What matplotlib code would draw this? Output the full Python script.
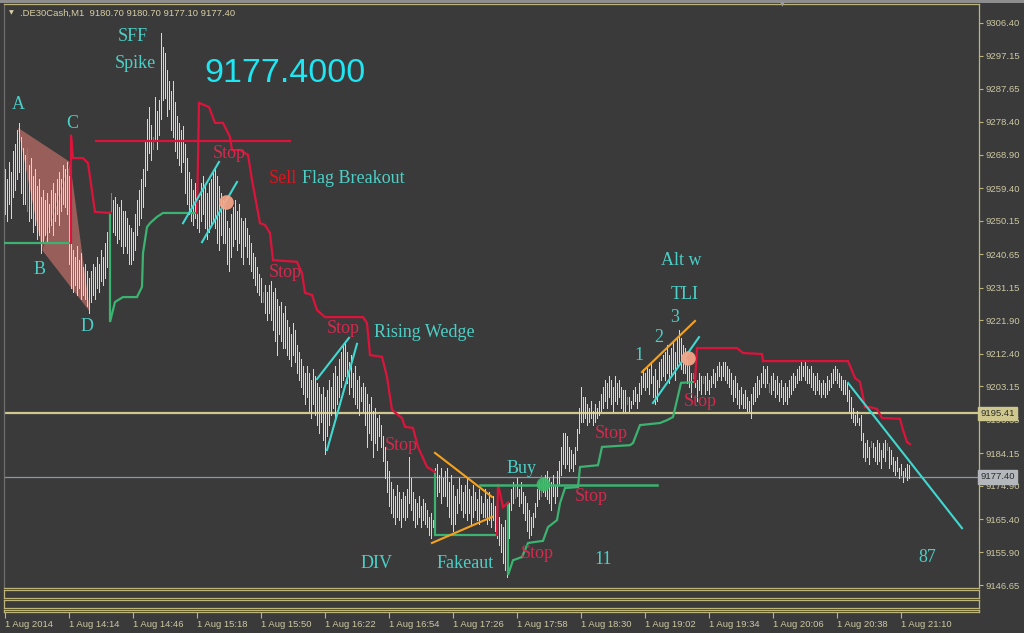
import matplotlib
matplotlib.use("Agg")
import matplotlib.pyplot as plt
import matplotlib.transforms as mtransforms
from matplotlib.patches import Polygon, Rectangle
import numpy as np

W, H = 1024, 633

BG = "#3a3a3a"
FRAME = "#bdb57a"
AXIS_TEXT = "#cdc8a2"
BAR = "#f1d2aa"
BAR_HI = "#22c022"
STOP_RED = "#dc143c"
STOP_GREEN = "#3cb371"
TEAL = "#4ccfc6"
CYAN = "#40d8d0"
ORANGE = "#f5a21e"
LEVEL_KHAKI = "#cfc88e"
LEVEL_GREY = "#8a98a8"

# --- price bars (1 minute, DE30) ---
highs = [
    9265, 9262, 9267, 9264, 9270, 9272, 9276, 9278, 9274, 9271,
    9269, 9271, 9266, 9268, 9263, 9265, 9260, 9262, 9257, 9259,
    9256, 9258, 9255, 9259, 9261, 9258, 9262, 9264, 9262, 9266,
    9265, 9267, 9263, 9244, 9242, 9240, 9243, 9239, 9241, 9237,
    9238, 9236, 9234, 9236, 9238, 9237, 9240, 9238, 9242, 9240,
    9244, 9247, 9252, 9258, 9256, 9257, 9255, 9254, 9256, 9253,
    9253, 9251, 9249, 9248, 9247, 9252, 9256, 9259, 9262, 9265,
    9273, 9279, 9282.5, 9277.5, 9274, 9285.5, 9281.5, 9284.5, 9303.5, 9299.5,
    9298, 9293, 9290, 9287, 9290, 9284, 9280, 9278, 9276, 9277,
    9272, 9268, 9264, 9262, 9259, 9261, 9258, 9256, 9261, 9263,
    9260, 9258, 9261, 9262, 9264, 9265, 9263, 9260, 9258, 9256,
    9254, 9250, 9248, 9252, 9254, 9256, 9253, 9255, 9251, 9250,
    9251, 9248, 9246, 9244, 9241, 9240, 9237, 9235, 9234, 9230,
    9232, 9230, 9232, 9233, 9230, 9231, 9228, 9226, 9227, 9224,
    9226, 9222, 9220, 9218, 9221, 9219, 9215, 9213, 9211, 9209,
    9207, 9209, 9207, 9205, 9208, 9206, 9204, 9203, 9201, 9203,
    9200, 9202, 9205, 9203, 9207, 9209, 9206, 9211, 9213, 9215,
    9216, 9213, 9210, 9212, 9207, 9209, 9205, 9206, 9203, 9204,
    9203, 9201, 9198, 9200, 9196, 9197, 9194, 9195, 9192, 9189,
    9186, 9182, 9179, 9176, 9174, 9172, 9175, 9173, 9171, 9173,
    9172, 9174, 9183, 9177, 9173, 9171, 9170, 9172, 9169, 9171,
    9170, 9168, 9166, 9167, 9165, 9180, 9181, 9178, 9180, 9177,
    9179, 9180, 9176, 9178, 9175, 9172, 9174, 9177, 9175, 9173,
    9175, 9177, 9174, 9172, 9175, 9173, 9171, 9174, 9172, 9170,
    9174, 9171, 9173, 9170, 9172, 9169, 9168, 9166, 9164, 9163,
    9165, 9163, 9170, 9174, 9176, 9175, 9177, 9174, 9176, 9173,
    9172, 9170, 9168, 9166, 9167, 9170, 9174, 9176, 9178, 9177,
    9178, 9179, 9177, 9176, 9178, 9175, 9179, 9182, 9186, 9190,
    9190, 9189, 9186, 9185, 9184, 9186, 9191, 9197, 9203, 9200,
    9200, 9198, 9197, 9199, 9196, 9198, 9197, 9199, 9201, 9203,
    9205, 9204, 9206, 9205, 9203, 9206, 9204, 9205, 9203, 9202,
    9202, 9200, 9200, 9199, 9202, 9203, 9201, 9204, 9206, 9208,
    9207, 9209, 9208, 9210, 9206, 9208, 9205, 9210, 9211, 9212,
    9213, 9215, 9212, 9214, 9216, 9213, 9217, 9219, 9217, 9215,
    9214, 9211, 9209, 9207, 9207, 9208, 9205, 9207, 9206, 9206,
    9206, 9207, 9205, 9206, 9208, 9207, 9209, 9210, 9209, 9210,
    9210, 9209, 9208, 9207, 9205, 9206, 9204, 9202, 9203, 9201,
    9202, 9200, 9199, 9201, 9203, 9204, 9206, 9205, 9207, 9209,
    9208, 9209, 9204, 9206, 9207, 9205, 9206, 9204, 9205, 9203,
    9204, 9203, 9205, 9206, 9207, 9206, 9208, 9209, 9210, 9209,
    9210, 9209, 9208, 9209, 9207, 9206, 9207, 9205, 9204, 9205,
    9204, 9206, 9205, 9207, 9208, 9209, 9208, 9207, 9206, 9205,
    9205, 9204, 9202, 9200, 9197, 9195, 9196, 9194, 9195, 9190,
    9187, 9188, 9186, 9187.5, 9187, 9186, 9188, 9187, 9185, 9187,
    9188, 9187, 9186, 9185, 9183, 9182, 9183, 9180, 9181, 9179,
    9180, 9181, 9180.7,
]
lows = [
    9252, 9250, 9255, 9251, 9257, 9259, 9262, 9264, 9258, 9255,
    9255, 9253, 9250, 9251, 9247, 9249, 9245, 9246, 9241, 9244,
    9246, 9244, 9247, 9249, 9246, 9250, 9252, 9249, 9253, 9255,
    9254, 9252, 9238, 9231, 9230, 9232, 9229, 9231, 9228, 9229,
    9228, 9226, 9224, 9227, 9229, 9228, 9231, 9230, 9233, 9232,
    9234, 9237, 9242, 9253, 9247, 9246, 9244, 9245, 9243, 9241,
    9243, 9241, 9238, 9238, 9239, 9242, 9246, 9249, 9251, 9254,
    9260, 9264.5, 9269.5, 9267.5, 9270.5, 9273, 9270.5, 9274.5, 9279, 9284.5,
    9285, 9280, 9282, 9276, 9274, 9270, 9268, 9266, 9264, 9267,
    9258, 9255, 9252, 9250, 9249, 9251, 9248, 9247, 9250, 9252,
    9248, 9245, 9247, 9249, 9250, 9248, 9244, 9242, 9246, 9244,
    9244, 9238, 9236, 9240, 9243, 9245, 9242, 9244, 9240, 9238,
    9243, 9240, 9238, 9236, 9234, 9232, 9230, 9229, 9227, 9227,
    9224, 9222, 9224, 9222, 9219, 9216, 9212, 9218, 9216, 9214,
    9214, 9212, 9211, 9209, 9212, 9210, 9207, 9205, 9203, 9201,
    9198, 9200, 9196, 9194, 9198, 9195, 9192, 9190, 9193, 9188,
    9184, 9189, 9192, 9195, 9197, 9194, 9198, 9200, 9203, 9205,
    9206, 9204, 9201, 9203, 9200, 9198, 9197, 9195, 9199, 9196,
    9192, 9186, 9190, 9188, 9183, 9187, 9185, 9189, 9186, 9182,
    9177, 9173, 9169, 9167, 9166, 9164, 9166, 9165, 9163, 9166,
    9165, 9166, 9170, 9168, 9165, 9163, 9164, 9166, 9163, 9165,
    9164, 9163, 9161, 9160, 9163, 9166, 9172, 9173, 9170, 9172,
    9172, 9169, 9166, 9164, 9162, 9164, 9167, 9170, 9168, 9166,
    9167, 9165, 9167, 9164, 9166, 9168, 9165, 9164, 9167, 9166,
    9166, 9164, 9165, 9163, 9165, 9162, 9160, 9158, 9156, 9153,
    9151, 9149, 9160, 9168, 9170, 9171.5, 9172, 9169, 9170, 9167,
    9165, 9162, 9160, 9161, 9163, 9166, 9169, 9171, 9172, 9173,
    9172, 9171, 9170, 9168, 9172, 9170, 9172, 9175, 9178, 9181,
    9180, 9181, 9179, 9180, 9179, 9181, 9185, 9190, 9193, 9193,
    9194, 9192, 9193, 9194, 9192, 9193, 9194, 9195, 9196, 9197,
    9199, 9197, 9200, 9198, 9196, 9199, 9198, 9200, 9197, 9196,
    9196, 9198, 9196, 9197, 9198, 9199, 9197, 9199, 9201, 9203,
    9202, 9203, 9201, 9204, 9200, 9198, 9199, 9203, 9205, 9206,
    9205, 9207, 9204, 9206, 9208, 9205, 9209, 9210, 9208, 9207,
    9207, 9204, 9203, 9200, 9205.5, 9203, 9199, 9202, 9201, 9204,
    9201, 9202, 9201, 9203, 9204, 9203, 9205, 9206, 9205, 9206,
    9205, 9204, 9203, 9201, 9199, 9200, 9198, 9197, 9198, 9197,
    9197, 9196, 9196, 9194, 9198, 9199, 9200, 9201, 9203, 9204,
    9203, 9204, 9201.5, 9201, 9202, 9200, 9201, 9199, 9200, 9198,
    9199, 9198, 9200, 9201, 9202, 9203, 9204, 9205, 9205, 9206,
    9205, 9204, 9204, 9203, 9202, 9201, 9202, 9201, 9200, 9201,
    9200, 9201, 9202, 9203, 9204, 9205, 9204, 9203, 9202, 9201,
    9201, 9199, 9196, 9194, 9193, 9192, 9193, 9192, 9188, 9183,
    9182, 9183, 9181, 9186, 9183, 9182, 9181, 9182, 9180, 9183,
    9182, 9185, 9180, 9181, 9179, 9178, 9179, 9177, 9178, 9176,
    9177.5, 9176.5, 9177.1,
]
highlight_bars = [11, 53, 74, 129, 255, 268, 311, 344, 349, 382, 433, 441]
last_ohlc = [9180.70, 9180.70, 9177.10, 9177.40]

time_tick_bars = [0, 32, 64, 96, 128, 160, 192, 224, 256, 288, 320, 352, 384, 416, 448]
time_tick_labels = ["1 Aug 2014", "1 Aug 14:14", "1 Aug 14:46", "1 Aug 15:18", "1 Aug 15:50",
                    "1 Aug 16:22", "1 Aug 16:54", "1 Aug 17:26", "1 Aug 17:58", "1 Aug 18:30",
                    "1 Aug 19:02", "1 Aug 19:34", "1 Aug 20:06", "1 Aug 20:38", "1 Aug 21:10"]
price_ticks = [9306.40, 9297.15, 9287.65, 9278.40, 9268.90, 9259.40, 9250.15, 9240.65, 9231.15,
               9221.90, 9212.40, 9203.15, 9193.65, 9184.15, 9174.90, 9165.40, 9155.90, 9146.65]
level_khaki = 9195.41

# --- trailing stop indicator (bar, price vertices) ---
green_stop_segments = [
    ([0, 32], [9243.9, 9243.9]),
    ([52.5, 52.5, 55, 59, 66, 68.5, 69, 71, 72.5, 76, 79, 96],
     [9252.4, 9221.4, 9227.1, 9228.5, 9228.5, 9231.4, 9241.0, 9248.4, 9249.5, 9251.3, 9252.4, 9252.4]),
    ([215, 215, 246], [9178.8, 9160.9, 9160.9]),
    ([251.5, 251.5, 254, 258.5, 261.5, 269, 271.5, 276, 277.5, 280, 286.5, 287.5, 296.5, 298.5,
      312.5, 314, 317.5, 327.5, 331, 334, 336, 338, 345],
     [9170.0, 9149.5, 9153.7, 9154.6, 9158.6, 9159.2, 9163.1, 9165.1, 9169.9, 9174.2, 9174.5, 9180.2,
      9180.7, 9185.9, 9186.4, 9187.0, 9192.1, 9192.7, 9193.5, 9194.4, 9199.2, 9204.1, 9204.4]),
]
red_stop_segments = [
    ([33, 33, 34, 39, 41.5, 42.5, 45, 52.5],
     [9243.9, 9274.6, 9268.0, 9268.0, 9266.6, 9262.6, 9252.7, 9252.4]),
    ([96, 97, 102, 105, 109, 112.5, 113.5, 117.5, 121.5, 123.5, 127.5, 130, 132.5, 134, 146, 148.5,
      150, 153.5, 156, 160, 179, 181, 182.5, 188.5, 191, 193.5, 198.5, 200, 204, 206.5, 211, 215],
     [9252.4, 9283.7, 9282.5, 9278.0, 9278.0, 9274.0, 9270.3, 9270.3, 9268.9, 9261.8, 9249.5, 9249.0,
      9246.7, 9239.0, 9238.5, 9235.3, 9229.7, 9229.1, 9224.8, 9222.8, 9222.8, 9221.1, 9212.0, 9211.5,
      9205.8, 9196.4, 9194.1, 9191.6, 9191.3, 9185.9, 9180.2, 9178.8]),
    ([246, 246.5, 249, 251.5], [9160.9, 9175.4, 9168.8, 9170.0]),
    ([345, 346, 347.5, 366, 369, 378.5, 379, 421.5, 424, 425, 427.5, 429, 430, 432.5, 436, 438.5,
      447.5, 449, 451, 452.5],
     [9204.4, 9214.0, 9214.0, 9214.0, 9212.6, 9212.3, 9210.3, 9210.3, 9206.9, 9205.5, 9204.4, 9200.1,
      9197.2, 9197.2, 9196.7, 9194.1, 9193.9, 9190.7, 9187.3, 9186.7]),
]

# --- drawn objects ---
red_hline_bars = [45.5, 142.5]
red_hline_price = 9272.9
buy_hline_bars = [237.5, 326]
buy_hline_price = 9175.1
cyan_lines = [
    ([89, 107], [9249.5, 9266.9]),
    ([98.5, 116], [9244.1, 9261.2]),
    ([156, 172], [9205.2, 9216.9]),
    ([161, 176], [9185.0, 9215.2]),
    ([324, 347], [9198.4, 9217.1]),
    ([421.5, 478.5], [9204.1, 9162.8]),
]
orange_lines = [
    ([215, 243.5], [9184.2, 9171.7]),
    ([213.5, 243.5], [9158.6, 9166.0]),
    ([318.5, 345], [9207.2, 9221.7]),
]
abcd_bars = [6.5, 18.5, 42.5, 32.5]
abcd_prices = [9276.6, 9241.9, 9224.3, 9266.9]
salmon_dot_bars = [110.5, 341.5]
salmon_dot_prices = [9255.5, 9211.2]
green_dot_bar = 269
green_dot_price = 9175.4

note_text = ["SFF", "Spike", "A", "C", "B", "D", "Rising Wedge", "DIV", "Fakeaut", "Buy", "11", "87",
             "Alt w", "TLI", "3", "2", "1"]
note_bar = [64, 65, 6.5, 33.5, 17.5, 41, 209.5, 186, 230, 258.5, 299, 461, 338, 340, 335, 327, 317]
note_price = [9302.7, 9295.0, 9283.1, 9277.7, 9236.2, 9220.0, 9218.5, 9152.9, 9152.9, 9179.9, 9154.0,
              9154.6, 9239.0, 9229.1, 9222.8, 9216.9, 9212.0]
stop_bar = [112, 140, 169, 198, 303, 293, 266, 347.5]
stop_price = [9269.4, 9235.6, 9219.7, 9186.4, 9189.6, 9171.7, 9155.5, 9198.7]


def fig_rect(left, top, right, bottom):
    return [left / W, 1 - bottom / H, (right - left) / W, (bottom - top) / H]


def style_box(ax):
    ax.set_facecolor(BG)
    for side in ("top", "bottom", "left", "right"):
        ax.spines[side].set_color(FRAME)
        ax.spines[side].set_linewidth(0.9)


fig = plt.figure(figsize=(W / 100, H / 100), dpi=100, facecolor=BG)
ax = fig.add_axes(fig_rect(4, 4, 979, 588))
style_box(ax)
ax.spines["left"].set_color("#6e6e6e")
ax.set_xlim(-0.5, 487)
ax.set_ylim(9145.8, 9311.8)

# levels
ax.axhline(level_khaki, color=LEVEL_KHAKI, lw=1.6, zorder=1)
ax.axhline(last_ohlc[3], color=LEVEL_GREY, lw=0.9, zorder=1)

# ABCD pattern
ax.add_patch(Polygon(list(zip(abcd_bars, abcd_prices)), closed=True, facecolor="#a3645e",
                     edgecolor="none", alpha=0.9, zorder=1.5))
ax.plot([abcd_bars[1], abcd_bars[3]], [abcd_prices[1], abcd_prices[3]], color="#5c3c3a", lw=0.6, zorder=1.6)

# bars
idx = np.arange(len(highs))
colors = [BAR_HI if i in highlight_bars else BAR for i in idx]
ax.vlines(idx, lows, highs, colors=colors, lw=0.5, antialiased=False, zorder=2)

# trailing stop
for xs, ys in green_stop_segments:
    ax.plot(xs, ys, color=STOP_GREEN, lw=1.6, zorder=3, solid_joinstyle="miter")
for xs, ys in red_stop_segments:
    ax.plot(xs, ys, color=STOP_RED, lw=1.6, zorder=3, solid_joinstyle="miter")
ax.plot(red_hline_bars, [red_hline_price] * 2, color=STOP_RED, lw=1.6, zorder=3)
ax.plot(buy_hline_bars, [buy_hline_price] * 2, color=STOP_GREEN, lw=1.8, zorder=3)

for xs, ys in cyan_lines:
    ax.plot(xs, ys, color=CYAN, lw=1.5, zorder=4)
for xs, ys in orange_lines:
    ax.plot(xs, ys, color=ORANGE, lw=1.5, zorder=4)

ax.scatter(salmon_dot_bars, salmon_dot_prices, s=110, color="#f7a78a", alpha=0.92, lw=0, zorder=5)
ax.scatter([green_dot_bar], [green_dot_price], s=100, color="#3cba6a", alpha=0.9, lw=0, zorder=5)

serif = "Liberation Serif"
for t, bx, py in zip(note_text, note_bar, note_price):
    ax.text(bx, py, t, color=TEAL, fontsize=13, family=serif, ha="center", va="center", zorder=6)
for bx, py in zip(stop_bar, stop_price):
    ax.text(bx, py, "Stop", color="#d42a4e", fontsize=13, family=serif, ha="center", va="center", zorder=6)
ax.text(132, 9262.3, "Sell", color="#e0141e", fontsize=13, family=serif, ha="left", va="center", zorder=6)
ax.text(148.5, 9262.3, "Flag Breakout", color=TEAL, fontsize=13, family=serif, ha="left", va="center", zorder=6)

# price axis on the right
ax.set_xticks([])
ax.yaxis.tick_right()
ax.set_yticks(price_ticks)
ax.set_yticklabels([f"{p:.2f}" for p in price_ticks])
ax.tick_params(axis="y", colors=FRAME, labelcolor=AXIS_TEXT, length=3, width=0.8, pad=2, labelsize=6.8)
for lab in ax.get_yticklabels():
    lab.set_family("Liberation Sans")

trans = mtransforms.blended_transform_factory(ax.transAxes, ax.transData)
for val, face in ((level_khaki, LEVEL_KHAKI), (last_ohlc[3], "#b4b8bc")):
    ax.text(1.0015, val, f"{val:.2f}", transform=trans, ha="left", va="center", fontsize=6.8,
            family="Liberation Sans", color="#2c2c2c", zorder=10, clip_on=False,
            bbox=dict(boxstyle="square,pad=0.25", facecolor=face, edgecolor=face))

# empty indicator sub-windows, the last one carries the time axis
for top, bottom in ((589.5, 597.5), (600, 608), (609.5, 611.5)):
    sub = fig.add_axes(fig_rect(4, top, 979, bottom))
    style_box(sub)
    sub.set_xlim(-0.5, 487)
    sub.set_yticks([])
    sub.set_xticks([])
sub.set_xticks(time_tick_bars)
sub.set_xticklabels(time_tick_labels)
sub.tick_params(axis="x", colors=FRAME, labelcolor=AXIS_TEXT, length=4, width=0.8, pad=2, labelsize=6.8)
for lab in sub.get_xticklabels():
    lab.set_horizontalalignment("left")
    lab.set_family("Liberation Sans")

# chart window header and big price label
fig.patches.append(Rectangle((0, 1 - 3 / H), 1, 3 / H, transform=fig.transFigure,
                             facecolor="#8e8e8e", edgecolor="none"))
fig.text(782 / W, 1 - 5 / H, "\u25bc", color="#9a9a9a", fontsize=4.5, ha="center", va="center")
fig.text(11 / W, 1 - 13 / H, "\u25bc", color="#d8cfa4", fontsize=4.5, ha="center", va="center")
header = ".DE30Cash,M1  " + " ".join(f"{v:.2f}" for v in last_ohlc)
fig.text(20 / W, 1 - 13 / H, header, color="#d8cfa4", fontsize=6.8, family="Liberation Sans",
         ha="left", va="center")
fig.text(285 / W, 1 - 74 / H, f"{last_ohlc[3]:.4f}", color="#1ee6f2", fontsize=24.5,
         family="Liberation Sans", ha="center", va="center")

fig.savefig("out.png", dpi=100, facecolor=BG)
